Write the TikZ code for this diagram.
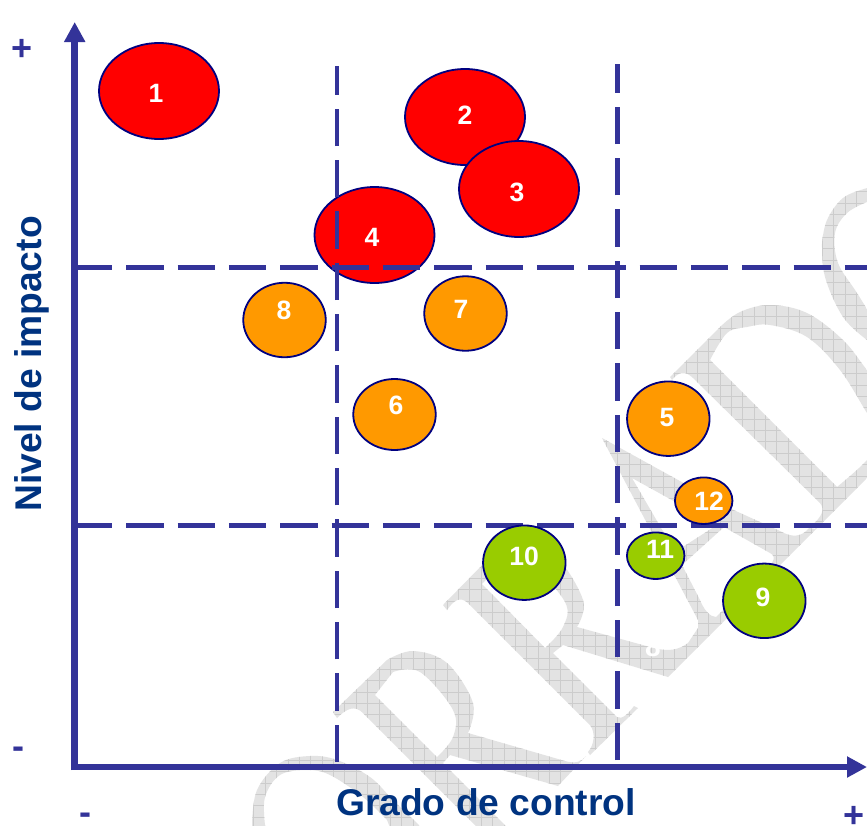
\documentclass[tikz,border=0pt]{standalone}
\usepackage{fontspec}
\setmainfont{Liberation Sans}
\usetikzlibrary{arrows.meta,shapes.geometric}
\definecolor{axisblue}{HTML}{333399}
\definecolor{titleblue}{HTML}{003380}
\definecolor{rimblue}{HTML}{000080}
\definecolor{blobred}{HTML}{FF0000}
\definecolor{bloborange}{HTML}{FF9900}
\definecolor{blobgreen}{HTML}{99CC00}
\definecolor{wmfill}{HTML}{E3E3E3}
\definecolor{wmgrid}{HTML}{CCCCCC}
\tikzset{
  blob/.style={ellipse,draw=rimblue,line width=1.8pt,inner sep=0pt,outer sep=0pt},
  bigblob/.style={blob,minimum width=120pt,minimum height=96pt,fill=blobred},
  midorange/.style={blob,minimum width=82.5pt,minimum height=74.5pt,fill=bloborange},
  midgreen/.style={blob,minimum width=82.5pt,minimum height=74.5pt,fill=blobgreen},
  smallblob/.style={blob,minimum width=57.5pt,minimum height=46.5pt},
  num/.style={text=white,font=\fontsize{26.5}{26.5}\selectfont\bfseries,inner sep=0pt},
  axisline/.style={axisblue,line width=6.5pt,-{Triangle[length=20pt,width=20pt]}},
  splitline/.style={axisblue,line width=4.6pt,dash pattern=on 37.3pt off 14.03pt},
  axistitle/.style={text=titleblue,font=\fontsize{37.2}{38}\selectfont\bfseries,inner sep=0pt},
  signmark/.style={text=axisblue,font=\fontsize{36}{36}\selectfont\bfseries,inner sep=0pt},
}
\newcommand{\wmletters}{
  % lower-left O
  (252,840) -- plot[smooth,tension=.6] coordinates{(252,825)(257,790)(280,763)(310,756)(337,760)(370,777)(393,800)(417,823)} -- (432,840) -- (395,840) -- plot[smooth,tension=.6] coordinates{(387,820)(363,797)(330,775)(307,770)(280,775)(265,797)(265,825)} -- (265,840) -- cycle
  % first R
  (333,712) -- (387,660) -- plot[smooth,tension=.6] coordinates{(387,660)(413,651)(447,663)(473,703)(468,733)} -- (565,761) .. controls (575,764) and (582,762) .. (586,756) -- (558,786) -- (450,755) -- (443,763) -- (520,840) -- (490,840) -- (363,713) .. controls (355,705) and (347,708) .. (337,718) -- cycle
  (375,695) -- (437,757) -- plot[smooth,tension=.6] coordinates{(437,757)(453,737)(453,710)(420,672)(393,672)} -- cycle
  % second R
  (443,605) -- (495,552) -- plot[smooth,tension=.6] coordinates{(495,552)(521,543)(555,555)(583,600)(577,627)} -- (650,647) .. controls (670,653) and (685,650) .. (695,635) -- (700,640) -- (668,677) -- (563,645) -- (553,653) -- (617,717) .. controls (622,720) and (628,714) .. (634,706) -- (638,708) -- (590,755) -- (588,752) .. controls (594,745) and (596,733) .. (590,725) -- (468,603) .. controls (460,596) and (454,600) .. (447,610) -- cycle
  (482,584) -- (545,648) -- plot[smooth,tension=.6] coordinates{(545,648)(563,627)(565,602)(530,564)(503,562)} -- cycle
  % A
  (602,438) -- (727,507) -- (780,531) .. controls (792,538) and (802,537) .. (809,528) -- (816,529) -- (668,677) -- (690,640) -- (698,628) -- (698,620) -- cycle
  (632,478) -- (675,552) -- (717,525) -- cycle
  (682,565) -- (700,600) .. controls (704,610) and (710,617) .. (716,617) -- (772,563) .. controls (775,558) and (774,555) .. (770,553) -- (724,527) -- cycle
  % D
  (670,377) -- (720,327) -- plot[smooth,tension=.6] coordinates{(720,327)(740,312)(770,305)(807,313)(843,340)(867,370)(900,410)} -- (900,445) -- (816,529) -- (812,525) .. controls (822,517) and (825,509) .. (820,503) -- (693,378) .. controls (685,370) and (678,372) .. (672,380) -- cycle
  (710,360) -- (837,487) -- plot[smooth,tension=.6] coordinates{(837,487)(867,460)(882,435)(867,413)(840,370)(807,337)(770,325)(747,327)(727,333)(710,360)} -- cycle
  % top-right O
  (822,243) -- plot[smooth,tension=.6] coordinates{(822,243)(827,220)(843,198)(867,188)(880,185)} -- (880,207) -- plot[smooth,tension=.6] coordinates{(867,202)(847,213)(835,233)(838,263)(857,293)(880,330)} -- (880,360) -- plot[smooth,tension=.6] coordinates{(867,340)(843,317)(825,277)(822,243)} -- cycle
}
\begin{document}
\begin{tikzpicture}[x=1pt,y=-1pt]
\useasboundingbox (0,0) rectangle (867,825);
\fill[white] (0,0) rectangle (867,825);
% watermark
\begin{scope}
  \clip \wmletters;
  \fill[wmfill] (0,0) rectangle (900,850);
  \foreach \i in {0,...,79} {
    \draw[wmgrid,line width=.6pt] ({3.6+11.37*\i},0) -- ({3.6+11.37*\i},850);
    \draw[wmgrid,line width=.6pt] (0,{9.7+11.37*\i}) -- (900,{9.7+11.37*\i});
  }
\end{scope}
\node[text=white,font=\fontsize{28}{28}\selectfont\bfseries,inner sep=0pt] (hidden8) at (653,647) {8};
% big red ellipses
\node[bigblob] (c1) at (159,91) {};
\node[bigblob] (c2) at (465,117) {};
\node[bigblob] (c3) at (519,189) {};
\node[bigblob] (c4) at (374.5,235) {};
% quadrant lines
\coordinate (va) at (337,762);  \coordinate (vb) at (337,66);
\coordinate (wa) at (617.5,760);\coordinate (wb) at (617.5,64);
\coordinate (ha) at (75,267.5); \coordinate (hb) at (867,267.5);
\coordinate (ja) at (75,525.5); \coordinate (jb) at (867,525.5);
\draw[splitline] (va) -- (vb);
\draw[splitline] (wa) -- (wb);
\draw[splitline] (ha) -- (hb);
\draw[splitline] (ja) -- (jb);
% axes
\coordinate (yfoot) at (74.7,770);\coordinate (ytop) at (74.7,22);
\coordinate (xfoot) at (74,767);  \coordinate (xtip) at (867,767);
\draw[axisline] (yfoot) -- (ytop);
\draw[axisline] (xfoot) -- (xtip);
% remaining ellipses
\node[midorange] (c8) at (284.5,320) {};
\node[midorange] (c7) at (465.5,313.5) {};
\node[midorange,minimum height=71pt] (c6) at (394.5,414.5) {};
\node[midorange] (c5) at (668.3,418.7) {};
\node[smallblob,fill=bloborange] (c12) at (703.7,500.7) {};
\node[smallblob,fill=blobgreen] (c11) at (655.7,555.7) {};
\node[midgreen] (c9) at (764.3,600.8) {};
\node[midgreen] (c10) at (524.3,562.7) {};
% numbers
\node[num] (n1) at (156,93) {1};
\node[num] (n2) at (465,115) {2};
\node[num] (n3) at (517,192) {3};
\node[num] (n4) at (372,237) {4};
\node[num] (n8) at (284,310) {8};
\node[num] (n7) at (461,309) {7};
\node[num] (n6) at (396,405) {6};
\node[num] (n5) at (667,418) {5};
\node[num] (n12) at (709,501) {12};
\node[num] (n11) at (660,549) {11};
\node[num] (n9) at (763,597) {9};
\node[num] (n10) at (524,556) {10};
% axis texts
\node[axistitle,rotate=90] (ytitle) at (32,364) {Nivel de impacto};
\node[axistitle] (xtitle) at (486,802) {Grado de control};
\node[signmark] (yplus) at (22,50) {+};
\node[signmark] (yminus) at (18,753) {-};
\node[signmark] (xminus) at (85,819) {-};
\node[signmark] (xplus) at (854,817) {+};
\end{tikzpicture}
\end{document}
